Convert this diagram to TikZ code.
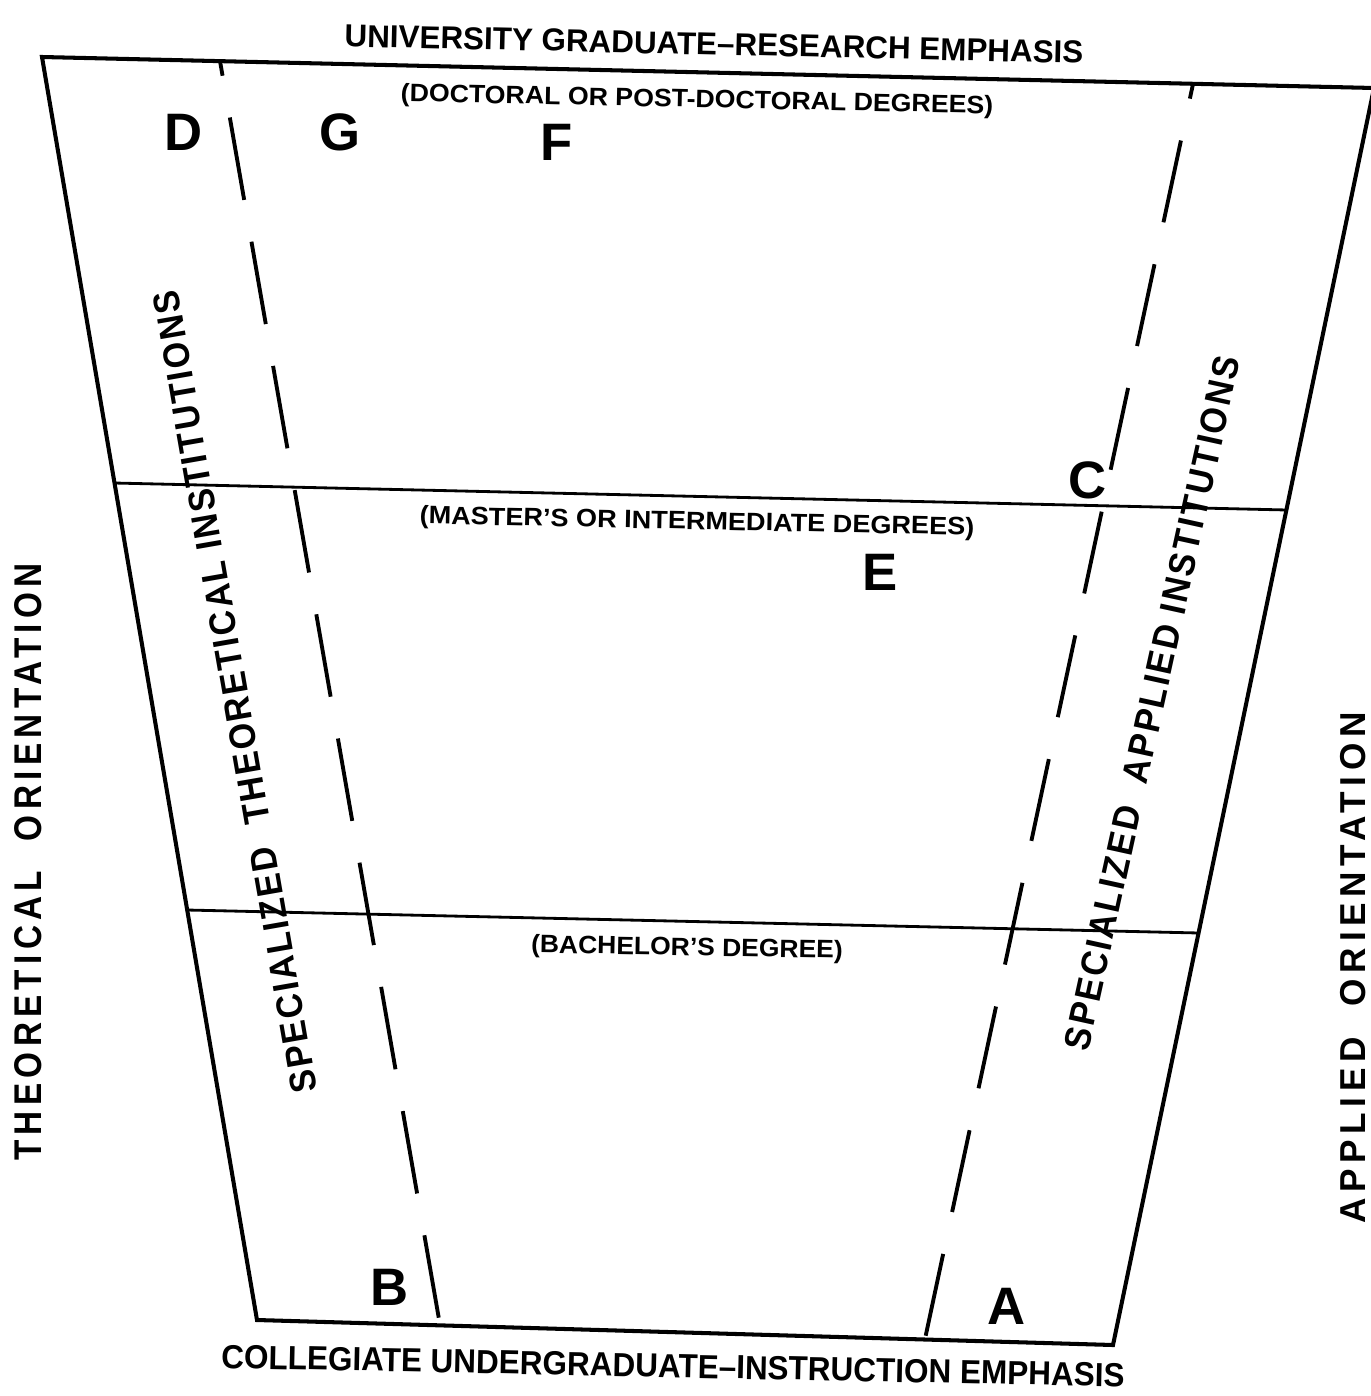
\documentclass[tikz,border=0pt]{standalone}
\usepackage{fontspec}
\setmainfont{Liberation Sans}
\newfontfamily\wideface[LetterSpace=16]{Liberation Sans}
\newfontfamily\midface[LetterSpace=7]{Liberation Sans}
\usepackage{graphicx}
\newlength\fitlen
\newcommand\fitto[2]{\settowidth\fitlen{#2}\pgfmathsetmacro\fitratio{#1*0.5669/\fitlen}\scalebox{\fitratio}[1]{#2}}
\begin{document}
\begin{tikzpicture}[x=0.02cm, y=-0.02cm,
  outer/.style={line width=2.3pt, line join=miter},
  mid/.style={line width=1.6pt},
  dashleft/.style={line width=2.2pt, dash pattern=on 47.6pt off 24.15pt, dash phase=39.1pt},
  dashright/.style={line width=2.2pt, dash pattern=on 47.6pt off 24.4pt, dash phase=39.1pt},
  lbl/.style={inner sep=0pt, font=\bfseries},
  letter/.style={inner sep=0pt, font=\fontsize{30}{30}\selectfont\bfseries}]
\useasboundingbox (0,0) rectangle (1371,1396);
\clip (0,0) rectangle (1371,1396);
% corners
\coordinate (TL) at (42,57);
\coordinate (TR) at (1374,88);
\coordinate (BR) at (1113,1345);
\coordinate (BL) at (257,1320);
\coordinate (M1L) at (114,483);
\coordinate (M1R) at (1287,510);
\coordinate (M2L) at (187,910);
\coordinate (M2R) at (1199,933);
\coordinate (DL1) at (220,61);
\coordinate (DL2) at (440,1325);
\coordinate (DR1) at (1193,84);
\coordinate (DR2) at (925,1339);
% frame
\draw[outer] (TR) -- (TL) -- (BL) -- (BR) -- (TR);
\draw[mid] (M1L) -- (M1R);
\draw[mid] (M2L) -- (M2R);
\draw[dashleft] (DL1) -- (DL2);
\draw[dashright] (DR1) -- (DR2);
% texts
\node[lbl, font=\fontsize{18}{20}\selectfont\bfseries, rotate=-1.3] (title) at (714,44)
  {\fitto{742}{UNIVERSITY GRADUATE\textendash RESEARCH EMPHASIS}};
\node[lbl, font=\fontsize{14.3}{16}\selectfont\bfseries, rotate=-1.2] (doc) at (697,101)
  {\fitto{595}{(DOCTORAL OR POST-DOCTORAL DEGREES)}};
\node[lbl, font=\fontsize{14.3}{16}\selectfont\bfseries, rotate=-1.2] (mas) at (697,523)
  {\fitto{557}{(MASTER’S OR INTERMEDIATE DEGREES)}};
\node[lbl, font=\fontsize{14.3}{16}\selectfont\bfseries, rotate=-1.0] (bac) at (687,949)
  {\fitto{313}{(BACHELOR’S DEGREE)}};
\node[lbl, font=\fontsize{19}{21}\selectfont\bfseries, rotate=-1.2] (bottom) at (673,1366)
  {\fitto{907}{COLLEGIATE UNDERGRADUATE\textendash INSTRUCTION EMPHASIS}};
\node[lbl, font=\fontsize{22}{24}\selectfont\wideface\bfseries, rotate=90] (theo) at (28,862)
  {\fitto{600}{THEORETICAL\hspace{0.45em} ORIENTATION}};
\node[lbl, font=\fontsize{20.5}{24}\selectfont\wideface\bfseries, rotate=90] (appl) at (1353,968)
  {\fitto{513}{APPLIED\hspace{0.45em} ORIENTATION}};
\node[lbl, font=\fontsize{21}{24}\selectfont\midface\bfseries, rotate=99.9] (sti) at (235,692)
  {\fitto{817}{SPECIALIZED\ \ THEORETICAL INSTITUTIONS}};
\node[lbl, font=\fontsize{21}{24}\selectfont\midface\bfseries, rotate=77.6] (sai) at (1152,703)
  {\fitto{712}{SPECIALIZED\ \ APPLIED INSTITUTIONS}};
% letters
\node[letter] (D) at (184,132) {D};
\node[letter] (G) at (340,132) {G};
\node[letter] (F) at (557,142) {F};
\node[letter] (C) at (1088,480) {C};
\node[letter] (E) at (880,572) {E};
\node[letter] (B) at (390,1287) {B};
\node[letter] (A) at (1007,1306) {A};
\end{tikzpicture}
\end{document}
